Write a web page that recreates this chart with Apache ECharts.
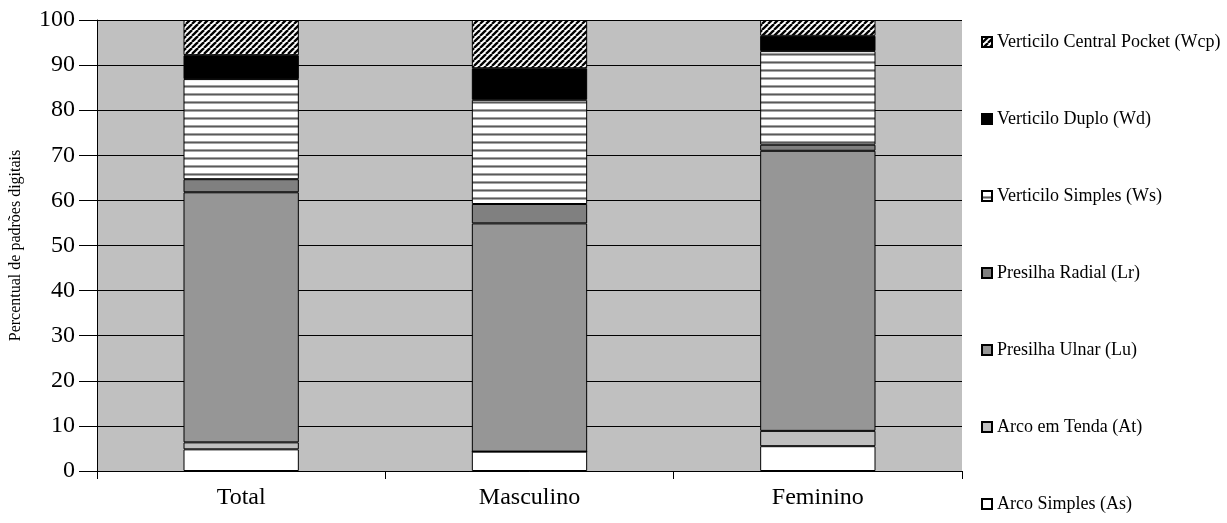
<!DOCTYPE html>
<html>
<head>
<meta charset="utf-8">
<script src="https://cdn.jsdelivr.net/npm/echarts@6/dist/echarts.min.js"></script>
<style>
  html, body { margin: 0; padding: 0; background: #ffffff; }
  #chart { width: 1227px; height: 523px; }
</style>
</head>
<body>
<div id="chart"></div>
<script>
// Percentage of fingerprint pattern types by group (stacked to 100%)
const categories = ['Total', 'Masculino', 'Feminino'];
const yTicks = [0, 10, 20, 30, 40, 50, 60, 70, 80, 90, 100];

const arcoSimples      = [4.8, 4.3, 5.5];    // As
const arcoTenda        = [1.55, 0, 3.4];     // At
const presilhaUlnar    = [55.45, 50.6, 62.1]; // Lu
const presilhaRadial   = [2.9, 4.3, 1.35];   // Lr
const verticiloSimples = [22.2, 23.1, 20.75]; // Ws
const verticiloDuplo   = [5.3, 7.0, 3.4];    // Wd
const verticiloCentral = [7.8, 10.7, 3.5];   // Wcp

// Horizontal stripe fill
function stripePattern() {
  const c = document.createElement('canvas');
  c.width = 8; c.height = 8;
  const g = c.getContext('2d');
  g.fillStyle = '#ffffff'; g.fillRect(0, 0, 8, 8);
  g.fillStyle = '#a0a0a0'; g.fillRect(0, 5, 8, 1);
  g.fillStyle = '#5a5a5a'; g.fillRect(0, 6, 8, 1);
  g.fillStyle = '#a8a8a8'; g.fillRect(0, 7, 8, 1);
  return c;
}

// Diagonal hatch fill
function hatchPattern() {
  const s = 6;
  const c = document.createElement('canvas');
  c.width = s; c.height = s;
  const g = c.getContext('2d');
  g.fillStyle = '#ffffff'; g.fillRect(0, 0, s, s);
  g.strokeStyle = '#000000'; g.lineWidth = 2.3;
  for (const o of [-s, 0, s]) {
    g.beginPath(); g.moveTo(o, s); g.lineTo(o + s, 0); g.stroke();
  }
  return c;
}

const serif = '"Liberation Serif", "DejaVu Serif", serif';

function seg(name, data, color) {
  return {
    name, type: 'bar', stack: 'all', data,
    barWidth: '40%',
    itemStyle: { color, borderColor: '#000000', borderWidth: 1 },
    emphasis: { disabled: true }
  };
}

const series = [
  seg('Arco Simples (As)', arcoSimples, '#ffffff'),
  seg('Arco em Tenda (At)', arcoTenda, '#c0c0c0'),
  seg('Presilha Ulnar (Lu)', presilhaUlnar, '#969696'),
  seg('Presilha Radial (Lr)', presilhaRadial, '#808080'),
  seg('Verticilo Simples (Ws)', verticiloSimples, { image: stripePattern(), repeat: 'repeat' }),
  seg('Verticilo Duplo (Wd)', verticiloDuplo, '#000000'),
  seg('Verticilo Central Pocket (Wcp)', verticiloCentral, { image: hatchPattern(), repeat: 'repeat' })
];

const chart = echarts.init(document.getElementById('chart'), null, { renderer: 'canvas' });
chart.setOption({
  animation: false,
  backgroundColor: '#ffffff',
  grid: {
    left: 97, right: 265, top: 20, bottom: 52,
    containLabel: false,
    outerBoundsMode: 'none',
    show: true, backgroundColor: '#c0c0c0', borderWidth: 0
  },
  legend: {
    orient: 'vertical',
    left: 976, top: 28,
    itemWidth: 10, itemHeight: 10,
    itemGap: 59,
    icon: 'rect',
    data: series.map(s => s.name).reverse(),
    textStyle: { fontFamily: serif, fontSize: 18, color: '#000000', lineHeight: 18 }
  },
  xAxis: {
    type: 'category',
    data: categories,
    axisLine: { lineStyle: { color: '#000000', width: 1 } },
    axisTick: { show: true, length: 8, lineStyle: { color: '#000000' } },
    axisLabel: { fontFamily: serif, fontSize: 24, color: '#000000', margin: 15 }
  },
  yAxis: {
    type: 'value',
    min: yTicks[0], max: yTicks[yTicks.length - 1], interval: 10,
    name: 'Percentual de padrões digitais',
    nameLocation: 'middle',
    nameGap: 73,
    nameTextStyle: { fontFamily: serif, fontSize: 16, color: '#000000' },
    axisLine: { show: true, lineStyle: { color: '#000000', width: 1 } },
    axisTick: { show: true, length: 18, lineStyle: { color: '#000000' } },
    splitLine: { show: true, lineStyle: { color: '#000000', width: 1 } },
    axisLabel: { fontFamily: serif, fontSize: 24, color: '#000000', margin: 22 }
  },
  series
});
</script>
</body>
</html>
